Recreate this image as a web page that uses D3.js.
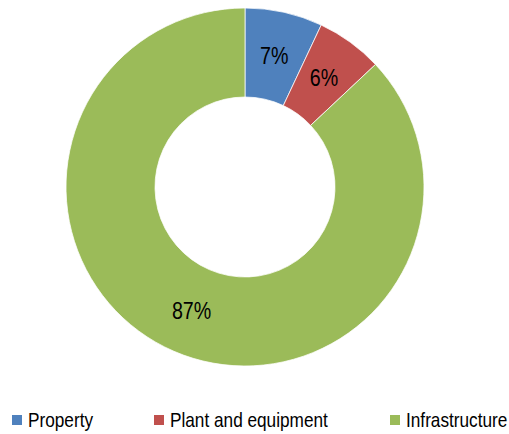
<!DOCTYPE html>
<html>
<head>
<meta charset="utf-8">
<script src="https://cdn.jsdelivr.net/npm/d3@7"></script>
<style>
  html, body { margin: 0; padding: 0; background: #fff; }
  svg { display: block; }
  text { font-family: "Liberation Sans Narrow", "Arial Narrow", "Liberation Sans", sans-serif; fill: #000; }
</style>
</head>
<body>
<svg id="chart" width="509" height="434"></svg>
<script>
// Asset categories and their shares (%)
const categories = ["Property", "Plant and equipment", "Infrastructure"];
const shares = [7, 6, 87];
const colors = ["#4F81BD", "#C0504D", "#9BBB59"];

const svg = d3.select("#chart");
const cx = 245, cy = 187;
const outerR = 179, innerR = 90;
const narrow = 0.82; // horizontal squeeze for a condensed look

const pie = d3.pie().sort(null).value(d => d.value);
const arcs = pie(categories.map((c, i) => ({ name: c, value: shares[i], color: colors[i] })));

const arc = d3.arc().innerRadius(innerR).outerRadius(outerR);

const g = svg.append("g").attr("transform", `translate(${cx},${cy})`);

g.selectAll("path")
  .data(arcs)
  .join("path")
  .attr("d", arc)
  .attr("fill", d => d.data.color)
  .attr("stroke", "#fff")
  .attr("stroke-width", 0.75);

g.selectAll("text.lbl")
  .data(arcs)
  .join("text")
  .attr("class", "lbl")
  .attr("transform", d => `translate(${arc.centroid(d)}) scale(${narrow},1)`)
  .attr("text-anchor", "middle")
  .attr("dominant-baseline", "central")
  .style("font-size", "24px")
  .text(d => d.data.value + "%");

// Legend along the bottom
const legendX = [12, 154, 390];
const legend = svg.append("g");
categories.forEach((c, i) => {
  legend.append("rect")
    .attr("x", legendX[i]).attr("y", 415)
    .attr("width", 10).attr("height", 10)
    .attr("fill", colors[i]);
  legend.append("text")
    .attr("transform", `translate(${legendX[i] + 16},427) scale(${narrow},1)`)
    .style("font-size", "21px")
    .text(c);
});
</script>
</body>
</html>
